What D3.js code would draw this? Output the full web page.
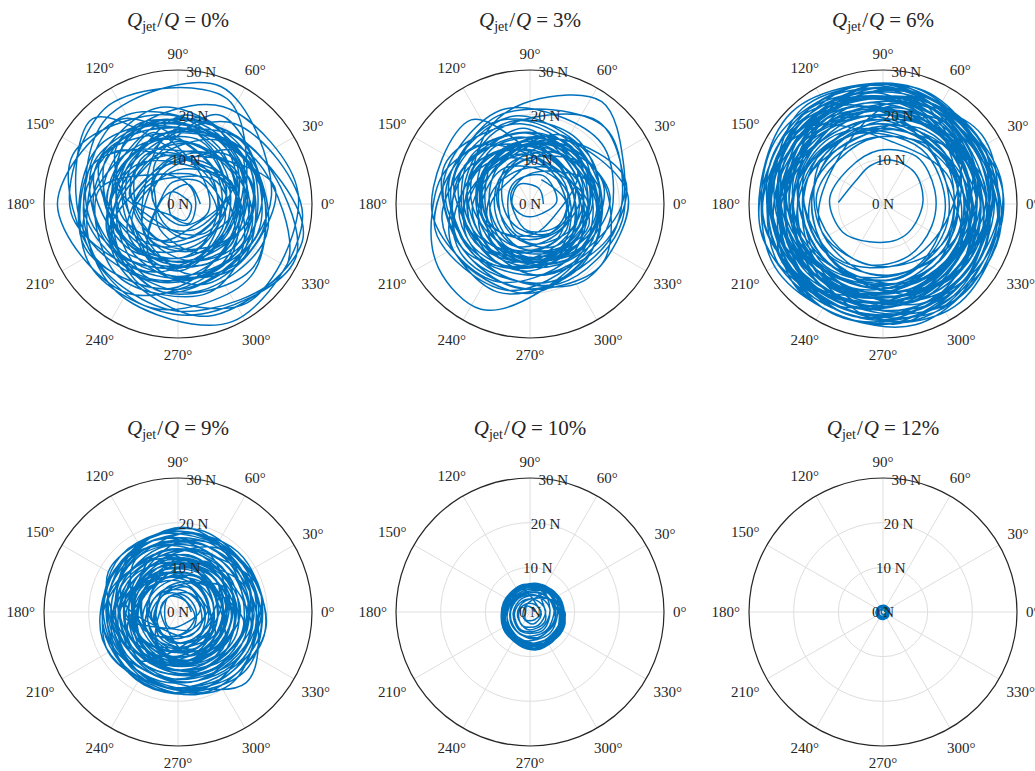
<!DOCTYPE html>
<html>
<head>
<meta charset="utf-8">
<script src="https://cdn.jsdelivr.net/npm/d3@7.9.0/dist/d3.min.js"></script>
<style>
  body { margin: 0; background: #fff; }
  svg text { font-family: "Liberation Serif", "DejaVu Serif", serif; fill: #262626; }
</style>
</head>
<body>
<svg id="chart" width="1035" height="771"></svg>
<script>
// ---------------------------------------------------------------
// data: jet share per panel, axis ticks, force trajectories [theta deg, rho N]
// ---------------------------------------------------------------
const jetShares = ['0%', '3%', '6%', '9%', '10%', '12%'];
const rTicks = [0, 10, 20, 30];
const thetaTicks = [0, 30, 60, 90, 120, 150, 180, 210, 240, 270, 300, 330];

const q0Path = [
  [0,5],[60,5],[120,3],[180,2],[240,3],[300,5],
  [5,4],[65,5],[125,8],[185,10],[245,9],[305,6],
  [10,11],[70,14],[130,13],[190,9],[250,6],[310,7],
  [20,13],[80,8],[140,7],[200,11],[260,16],[320,17],
  [25,18],[85,17],[145,14],[205,12],[265,13],[325,15],
  [30,10],[90,6],[150,8],[210,13],[270,15],[330,12],
  [35,13],[95,19],[155,21],[215,18],[275,14],[335,13],
  [40,16],[100,10],[160,7],[220,10],[280,16],[340,19],
  [45,20],[105,16],[165,15],[225,19],[285,26],[345,29],
  [50,20],[110,19],[170,17],[230,14],[290,13],[350,16],
  [55,17],[115,11],[175,5],[235,7],[295,12],[355,17],
  [60,18],[120,23],[180,27],[240,23],[300,17],[0,15],
  [65,26],[125,27],[185,24],[245,17],[305,18],[5,21],
  [70,28],[130,25],[190,20],[250,16],[310,19],[10,22],
  [75,11],[135,8],[195,5],[255,6],[315,9],[15,12],
  [80,9],[140,13],[200,17],[260,20],[320,22],[20,19],
  [85,18],[145,22],[205,23],[265,19],[325,14],[25,14],
  [90,14],[150,12],[210,9],[270,10],[330,14],[30,16],
  [95,20],[155,26],[215,22],[275,19],[335,18],[35,19],
  [100,22],[160,20],[220,15],[280,12],[340,13],[40,18],
  [105,8],[165,6],[225,4],[285,5],[345,7],[45,8],
  [110,17],[170,14],[230,15],[290,19],[350,20],[50,18],
  [115,19],[175,21],[235,24],[295,29],[355,28],[55,22],
  [120,14],[180,15],[240,12],[300,10],[0,11],[60,12],
  [125,23],[185,21],[245,18],[305,17],[5,19],[65,22],
  [130,11],[190,14],[250,18],[310,17],[10,13],[70,10],
  [135,27],[195,22],[255,18],[315,15],[15,16],[75,20],
  [140,12],[200,16],[260,20],[320,18],[20,13],[80,10],
  [145,19],[205,15],[265,13],[325,16],[25,18],[85,20],
  [150,13],[210,11],[270,14],[330,17],[30,15],[90,12],
  [155,21],[215,24],[275,25],[335,29],[35,21],[95,19],
  [160,16],[220,17],[280,14],[340,10],[40,11],[100,15],
  [165,8],[225,10],[285,13],[345,11],[45,8],[105,7],
  [170,18],[230,21],[290,21],[350,17],[50,14],[110,15],
  [175,16],[235,11],[295,9],[355,13],[55,17],[115,20],
  [180,19],[240,17],[300,13],[0,13],[60,16],[120,19],
  [185,15],[245,20],[305,27],[5,27],[65,24],[125,19],
  [190,13],[250,9],[310,8],[10,11],[70,15],[130,16],
  [195,22],[255,24],[315,23],[15,19],[75,17],[135,19],
  [200,11],[260,16],[320,19],[20,17],[80,12],[140,9],
  [205,17],[265,14],[325,12],[25,14],[85,17],[145,20],
  [210,22],[270,24],[330,28],[30,20],[90,16],[150,20],
  [215,14],[275,12],[335,10],[35,9],[95,11],[155,13],
  [220,18],[280,20],[340,21],[40,19],[100,16],[160,15],
  [225,6],[285,8],[345,9],[45,7],[105,5],[165,4],
  [230,10],[290,11],[350,9],[50,10],[110,12],[170,11],
  [235,3],[295,4],[355,3],[55,2],[115,3],[175,4],
  [240,13],[300,15],[0,14],[60,11],[120,9],[180,12]
];

const q3Path = [
  [0,3],[60,4],[120,5],[180,4],[240,3],[300,3],
  [5,6],[65,7],[125,6],[185,5],[245,7],[305,8],
  [10,9],[70,8],[130,10],[190,11],[250,10],[310,9],
  [15,12],[75,11],[135,9],[195,8],[255,10],[315,13],
  [20,14],[80,15],[140,13],[200,12],[260,13],[320,14],
  [25,11],[85,13],[145,15],[205,14],[265,11],[325,10],
  [30,8],[90,11],[150,12],[210,10],[270,7],[330,6],
  [35,13],[95,16],[155,17],[215,15],[275,13],[335,13],
  [40,16],[100,19],[160,18],[220,14],[280,12],[340,14],
  [45,10],[105,8],[165,9],[225,12],[285,14],[345,13],
  [50,15],[110,14],[170,12],[230,11],[290,13],[350,16],
  [55,18],[115,20],[175,19],[235,16],[295,14],[355,15],
  [60,13],[120,10],[180,7],[240,8],[300,11],[0,13],
  [65,9],[125,12],[185,14],[245,15],[305,13],[5,10],
  [70,12],[130,16],[190,20],[250,21],[310,18],[10,16],
  [75,14],[135,13],[195,11],[255,12],[315,15],[15,17],
  [80,16],[140,17],[200,15],[260,13],[320,12],[20,14],
  [85,7],[145,5],[205,4],[265,6],[325,8],[25,9],
  [90,11],[150,14],[210,16],[270,15],[330,13],[30,12],
  [95,17],[155,15],[215,13],[275,12],[335,15],[35,17],
  [100,20],[160,19],[220,17],[280,16],[340,18],[40,21],
  [105,22],[165,20],[225,18],[285,18],[345,20],[45,24],
  [110,21],[170,18],[230,17],[290,19],[350,21],[50,24],
  [115,18],[175,15],[235,14],[295,15],[355,20],[25,23],[55,28],[90,23],
  [120,19],[180,13],[240,11],[300,12],[0,14],[60,16],
  [125,15],[185,12],[245,13],[305,15],[5,16],[65,17],
  [130,11],[190,9],[250,10],[310,12],[10,11],[70,10],
  [135,18],[195,22],[255,20],[315,16],[15,14],[75,15],
  [140,14],[200,18],[260,19],[320,21],[20,17],[80,14],
  [145,12],[205,10],[265,8],[325,9],[25,11],[85,12],
  [150,16],[210,20],[270,20],[330,17],[30,15],[90,16],
  [155,20],[185,22],[215,25],[245,26],[275,20],[335,16],[35,15],
  [95,18],[155,21],[215,18],[275,14],[335,12],[35,13],
  [95,14],[155,12],[215,11],[275,13],[335,16],[35,15],
  [95,10],[155,8],[215,7],[275,9],[335,11],[35,10],
  [95,15],[155,17],[215,19],[275,19],[335,17],[35,14],
  [95,13],[155,11],[215,13],[275,16],[335,19],[15,22],[65,16],
  [125,12],[185,15],[245,15],[305,12],[5,9],[65,9],
  [125,23],[185,22],[245,19],[305,15],[5,13],[65,14],
  [125,13],[185,10],[245,12],[305,15],[5,18],[65,15],
  [125,9],[185,6],[245,6],[305,8],[5,10],[65,11],
  [125,14],[185,16],[245,17],[305,21],[5,22],[65,16],
  [125,11],[185,13],[245,14],[305,11],[5,12],[65,13],
  [125,7],[185,9],[245,11],[305,10],[5,8],[65,6]
];

const q6Path = [
  [178,10],[140,8],[109,9],[80,10],[45,10],[5,9],[320,8.5],[291,8.6],[250,9],[215,11],
  [175,12],[135,11],[95,12],[55,13],[15,12],[335,12],[295,13],[255,14],[215,14],[175,15],[135,14],[95,15],[55,16],[15,15],
  [330,20],[270,19],[210,21],[150,22],[90,20],[30,21],
  [330,22],[270,23],[210,24],[150,23],[90,21],[30,22],
  [335,18],[275,16],[215,17],[155,19],[95,18],[35,17],
  [340,20],[280,22],[220,25],[160,26],[100,24],[40,22],
  [345,24],[285,25],[225,24],[165,22],[105,21],[45,23],
  [350,15],[290,14],[230,16],[170,18],[110,17],[50,16],
  [355,19],[295,21],[235,22],[175,24],[115,25],[55,23],
  [0,26],[300,27],[240,25],[180,23],[120,22],[60,24],
  [5,21],[305,19],[245,18],[185,20],[125,22],[65,22],
  [10,17],[310,18],[250,20],[190,21],[130,19],[70,17],
  [15,23],[315,25],[255,26],[195,26],[135,25],[75,24],
  [20,25],[320,23],[260,21],[200,22],[140,24],[80,26],
  [25,19],[325,16],[265,14],[205,15],[145,17],[85,19],
  [30,22],[330,24],[270,26],[210,27],[150,26],[90,23],
  [35,27],[335,26],[275,24],[215,23],[155,24],[95,25],
  [40,20],[340,21],[280,19],[220,18],[160,20],[100,22],
  [45,16],[345,15],[285,17],[225,19],[165,18],[105,16],
  [50,24],[350,26],[290,27],[230,26],[170,25],[110,24],
  [55,23],[355,21],[295,20],[235,21],[175,23],[115,24],
  [60,18],[0,20],[300,22],[240,23],[180,22],[120,20],
  [65,25],[5,27],[305,28],[245,27],[185,26],[125,27],
  [70,26],[10,25],[310,24],[250,22],[190,21],[130,23],
  [75,21],[15,22],[315,23],[255,24],[195,25],[135,24],
  [80,14],[20,16],[320,17],[260,16],[200,15],[140,14],
  [85,22],[25,20],[325,19],[265,20],[205,22],[145,23],
  [90,27],[30,24],[330,25],[270,27],[210,28],[150,28],
  [95,27],[35,26],[335,27],[275,26],[215,25],[155,26],
  [100,20],[40,18],[340,17],[280,18],[220,20],[160,21],
  [105,23],[45,22],[345,23],[285,22],[225,21],[165,22],
  [110,19],[50,21],[350,24],[290,25],[230,23],[170,20],
  [115,17],[55,15],[355,14],[295,16],[235,18],[175,19],
  [120,24],[60,25],[0,26],[300,25],[240,24],[180,25],
  [125,26],[65,24],[5,22],[305,21],[245,22],[185,24],
  [130,28],[70,27],[10,25],[310,23],[250,24],[190,27],
  [135,27],[75,23],[15,20],[315,18],[255,19],[195,22],
  [140,22],[80,20],[20,21],[320,22],[260,21],[200,20],
  [145,18],[85,17],[25,18],[325,20],[265,22],[205,23],
  [150,25],[90,26],[30,25],[330,24],[270,25],[210,26],
  [155,21],[95,19],[35,17],[335,16],[275,17],[215,19],
  [160,24],[100,24],[40,23],[340,22],[280,23],[220,25],
  [165,26],[105,27],[45,26],[345,27],[285,28],[225,27],
  [170,23],[110,22],[50,20],[350,19],[290,20],[230,22],
  [175,20],[115,21],[55,22],[355,21],[295,19],[235,17],
  [180,16],[120,17],[60,19],[0,21],[300,21],[240,19],
  [185,22],[125,24],[65,25],[5,24],[305,22],[245,21],
  [190,25],[130,26],[70,26],[10,27],[310,27],[250,25],
  [195,28],[135,29],[75,27],[15,25],[315,24],[255,26],
  [200,24],[140,23],[80,21],[20,20],[320,21],[260,23],
  [205,19],[145,18],[85,20],[25,22],[325,23],[265,21],
  [210,23],[150,25],[90,27],[30,26],[330,23],[270,22],
  [215,26],[155,27],[95,26],[35,24],[335,25],[275,27],
  [220,21],[160,19],[100,18],[40,19],[340,20],[280,20],
  [225,17],[165,16],[105,15],[45,17],[345,18],[285,19],
  [230,24],[170,26],[110,25],[50,23],[350,22],[290,23],
  [235,22],[175,24],[115,23],[55,21],[355,22],[295,24],
  [240,20],[180,21],[120,23],[60,24],[0,23],[300,20],
  [245,25],[185,27],[125,26],[65,26],[5,25],[305,26],
  [250,27],[190,28],[130,27],[70,25],[10,24],[310,25],
  [255,18],[195,17],[135,16],[75,17],[15,18],[315,20],
  [260,24],[200,26],[140,26],[80,24],[20,22],[320,23]
];

const q9Path = [
  [0,3],[60,3],[120,4],[180,3],[240,4],[300,3],
  [5,5],[65,6],[125,5],[185,6],[245,6],[305,5],
  [10,7],[70,8],[130,7],[190,8],[250,9],[310,8],
  [15,10],[75,9],[135,8],[195,10],[255,11],[315,10],
  [20,12],[80,13],[140,12],[200,11],[260,12],[320,13],
  [25,9],[85,11],[145,13],[205,14],[265,12],[325,10],
  [30,6],[90,7],[150,9],[210,10],[270,9],[330,7],
  [35,11],[95,12],[155,11],[215,10],[275,11],[335,12],
  [40,14],[100,15],[160,14],[220,13],[280,14],[340,15],
  [45,16],[105,17],[165,16],[225,15],[285,16],[345,17],
  [50,13],[110,11],[170,10],[230,12],[290,14],[350,15],
  [55,8],[115,6],[175,5],[235,7],[295,9],[355,9],
  [60,10],[120,12],[180,13],[240,12],[300,11],[0,11],
  [65,15],[125,16],[185,15],[245,14],[305,15],[5,16],
  [70,18],[130,17],[190,16],[250,17],[310,18],[10,19],
  [75,19],[135,18],[195,17],[255,16],[315,17],[15,19],
  [80,14],[140,13],[200,12],[260,13],[320,15],[20,16],
  [85,11],[145,9],[205,8],[265,9],[325,11],[25,12],
  [90,6],[150,5],[210,6],[270,7],[330,8],[30,7],
  [95,9],[155,10],[215,11],[275,12],[335,11],[35,10],
  [100,13],[160,14],[220,15],[280,16],[340,16],[40,15],
  [105,17],[165,17],[225,17],[285,18],[345,19],[45,18],
  [110,18],[170,16],[230,16],[290,19],[350,20],[50,18],
  [115,16],[175,15],[235,14],[295,15],[355,17],[55,17],
  [120,12],[180,11],[240,10],[300,12],[0,14],[60,13],
  [125,8],[185,7],[245,8],[305,10],[5,10],[65,9],
  [130,10],[190,12],[250,13],[310,14],[10,13],[70,12],
  [135,14],[195,15],[255,17],[315,19],[15,18],[75,16],
  [140,17],[200,18],[260,18],[320,20],[20,19],[80,18],
  [145,15],[205,14],[265,15],[325,17],[25,17],[85,16],
  [150,11],[210,10],[270,11],[330,13],[30,13],[90,12],
  [155,7],[215,6],[275,7],[335,9],[35,9],[95,8],
  [160,12],[220,13],[280,14],[340,14],[40,13],[100,13],
  [165,16],[225,17],[285,19],[345,20],[45,19],[105,18],
  [170,15],[230,16],[290,18],[350,17],[50,15],[110,14],
  [175,10],[235,11],[295,12],[355,12],[55,11],[115,10],
  [180,13],[240,14],[300,15],[0,16],[60,15],[120,14],
  [185,17],[245,18],[305,20],[5,18],[65,17],[125,17],
  [190,14],[250,15],[314,22],[10,17],[70,16],[130,15],
  [195,9],[255,10],[315,11],[15,10],[75,9],[135,8],
  [200,12],[260,11],[320,12],[20,13],[80,14],[140,13],
  [205,16],[265,15],[325,16],[25,17],[85,19],[145,17],
  [210,18],[270,17],[330,18],[30,18],[90,18],[150,18],
  [215,13],[275,13],[335,14],[35,14],[95,14],[155,14],
  [220,10],[280,9],[340,10],[40,11],[100,11],[160,11],
  [225,8],[285,8],[345,7],[45,7],[105,8],[165,9],
  [230,11],[290,10],[350,9],[50,10],[110,10],[170,12],
  [235,5],[295,6],[355,6],[55,5],[115,4],[175,4],
  [240,9],[300,9],[0,8],[60,9],[120,9],[180,10],
  [245,12],[305,13],[5,12],[65,11],[125,11],[185,12],
  [250,4],[310,5],[10,4],[70,4],[130,5],[190,5],
  [255,7],[315,7],[15,6],[75,6],[135,6],[195,7],
  [260,10],[320,9],[20,8],[80,8],[140,9],[200,9],
  [265,6],[325,6],[25,5],[85,5],[145,6],[205,8],
  [270,11],[330,11],[30,10],[90,9],[150,10],[210,11],
  [275,8],[335,10],[35,12],[95,11],[155,9],[215,8],
  [280,5],[340,4],[40,3],[100,4],[160,4],[220,4],
  [285,10],[345,11],[45,11],[105,10],[165,11],[225,12],
  [290,12],[350,13],[50,12],[110,12],[170,13],[230,14],
  [295,7],[355,8],[55,9],[115,8],[175,7],[235,6]
];

const q10Path = [
  [0,1],[60,1],[120,1.5],[180,1],[240,2],[300,2],
  [0,2.5],[60,2],[120,2],[180,2.5],[240,3.5],[300,3.5],
  [5,3.5],[65,3],[125,3],[185,3.5],[245,4.5],[305,4.5],
  [10,4.5],[70,4],[130,4],[190,4.5],[250,5.5],[310,5.5],
  [15,5.5],[75,4.8],[135,4.6],[195,5.3],[255,6.5],[315,6.5],
  [20,6.3],[80,5.6],[140,5.4],[200,6],[260,7.3],[320,7.4],
  [25,6.8],[85,5.8],[145,5.6],[205,6.4],[265,7.8],[325,7.9],
  [30,7],[90,5.8],[150,5.8],[210,6.8],[270,8.3],[330,8.2],
  [35,6.6],[95,5.5],[155,5.4],[215,6.3],[275,7.8],[335,7.6],
  [40,7.1],[100,5.9],[160,5.9],[220,7],[280,8.6],[340,8.3],
  [45,6],[105,5],[165,5],[225,6],[285,7.2],[345,7],
  [50,5],[110,4.2],[170,4.3],[230,5.2],[290,6],[350,5.8],
  [55,6.5],[115,5.6],[175,5.9],[235,7],[295,8],[355,7.6],
  [60,6.8],[120,6],[180,6.3],[240,7.4],[300,8.4],[0,7.8],
  [65,4],[125,3.5],[185,3.8],[245,4.8],[305,5],[5,4.5],
  [70,6.2],[130,5.7],[190,6.2],[250,7.2],[310,7.9],[10,7.3],
  [75,6.6],[135,6],[195,6.6],[255,7.8],[315,8.3],[15,7.3],
  [80,5.2],[140,5],[200,5.8],[260,7],[320,7.4],[20,6.2],
  [85,3],[145,2.6],[205,3],[265,4],[325,4],[25,3.4],
  [90,6.1],[150,6.1],[210,7],[270,8.4],[330,8.4],[30,7.3],
  [95,4.6],[155,4.4],[215,5],[275,6],[335,6],[35,5.2],
  [100,6.3],[160,6.3],[220,7.2],[280,8.3],[340,8.2],[40,7],
  [105,2],[165,1.5],[225,2],[285,2.8],[345,2.6],[45,2.2],
  [110,5.5],[170,5.6],[230,6.5],[290,7.6],[350,7.2],[50,6]
];

const q12Path = [
  [0,0.4],[60,0.5],[120,0.5],[180,0.4],[240,0.5],[300,0.6],
  [0,0.8],[60,0.9],[120,0.8],[180,0.9],[240,1],[300,0.9],
  [5,1.2],[65,1.1],[125,1.2],[185,1.3],[245,1.4],[305,1.3],
  [10,1.5],[70,1.4],[130,1.5],[190,1.6],[250,1.7],[310,1.6],
  [15,1.3],[75,1.2],[135,1.3],[195,1.5],[255,1.6],[315,1.5],
  [20,1],[80,1.1],[140,1.2],[200,1.1],[260,1.3],[320,1.2],
  [25,1.6],[85,1.5],[145,1.4],[205,1.6],[265,1.7],[325,1.6]
];

const paths = [q0Path, q3Path, q6Path, q9Path, q10Path, q12Path];

// ---------------------------------------------------------------
// layout
// ---------------------------------------------------------------
const colX = [178, 530, 883];
const rowY = [204, 612];
const R = 134;
const labelSize = 15;

const svg = d3.select('#chart');
svg.append('rect').attr('width', 1035).attr('height', 771).attr('fill', '#fff');

// rho in N -> px, theta in deg -> d3 radial angle (0 at top, clockwise)
const r = d3.scaleLinear().domain([0, 30]).range([0, R]);
const ang = d3.scaleLinear().domain([0, 360]).range([Math.PI / 2, Math.PI / 2 - 2 * Math.PI]);

const line = d3.lineRadial()
  .angle(d => ang(d[0]))
  .radius(d => r(d[1]))
  .curve(d3.curveCatmullRom.alpha(0.5));

jetShares.forEach((share, i) => {
  const g = svg.append('g')
    .attr('transform', `translate(${colX[i % 3]},${rowY[Math.floor(i / 3)]})`);

  // grid
  g.selectAll('circle.grid')
    .data(rTicks.slice(1, -1))
    .join('circle')
    .attr('class', 'grid')
    .attr('r', d => r(d))
    .attr('fill', 'none')
    .attr('stroke', '#dedede')
    .attr('stroke-width', 1);

  g.selectAll('line.spoke')
    .data(thetaTicks)
    .join('line')
    .attr('class', 'spoke')
    .attr('x2', d => R * Math.sin(ang(d)))
    .attr('y2', d => -R * Math.cos(ang(d)))
    .attr('stroke', '#dedede')
    .attr('stroke-width', 1);

  // trajectory
  g.append('path')
    .attr('d', line(paths[i]))
    .attr('fill', 'none')
    .attr('stroke', '#0072bd')
    .attr('stroke-width', 1.5)
    .attr('stroke-linejoin', 'round');

  // outer edge
  g.append('circle')
    .attr('r', r(30))
    .attr('fill', 'none')
    .attr('stroke', '#262626')
    .attr('stroke-width', 1.2);

  // rho labels along 80 deg
  g.selectAll('text.rlab')
    .data(rTicks)
    .join('text')
    .attr('class', 'rlab')
    .attr('x', d => r(d) * Math.sin(ang(80)))
    .attr('y', d => -r(d) * Math.cos(ang(80)))
    .attr('text-anchor', 'middle')
    .attr('dominant-baseline', 'central')
    .style('font-size', labelSize + 'px')
    .text(d => d + ' N');

  // theta labels
  thetaTicks.forEach(t => {
    const lab = g.append('text')
      .attr('text-anchor', 'middle')
      .attr('dominant-baseline', 'central')
      .style('font-size', labelSize + 'px')
      .text(t + '°');
    const w = lab.node().getComputedTextLength();
    const a = t * Math.PI / 180;
    const d = R + 9 + (w / 2) * Math.abs(Math.cos(a)) + (labelSize / 2) * Math.abs(Math.sin(a));
    lab.attr('x', d * Math.cos(a)).attr('y', -d * Math.sin(a));
  });

  // title  Q_jet / Q = x%
  const title = g.append('text')
    .attr('y', -177)
    .attr('text-anchor', 'middle')
    .style('font-size', '21px');
  title.append('tspan').attr('font-style', 'italic').text('Q');
  title.append('tspan').style('font-size', '14px').attr('dy', 4).text('jet');
  title.append('tspan').attr('dy', -4).attr('dx', 1).text('/');
  title.append('tspan').attr('font-style', 'italic').attr('dx', 1).text('Q');
  title.append('tspan').attr('dx', 5).text('=');
  title.append('tspan').attr('dx', 5).text(share);
});
</script>
</body>
</html>
